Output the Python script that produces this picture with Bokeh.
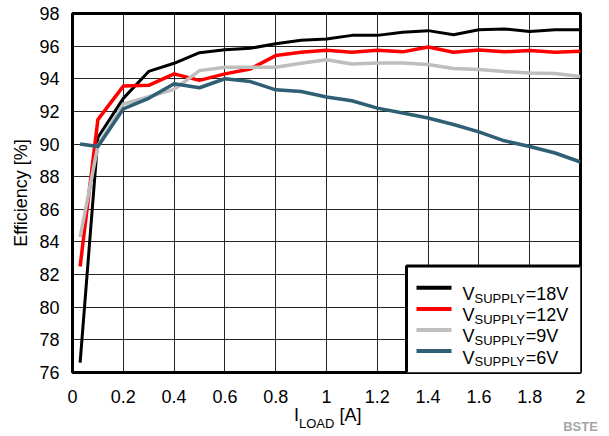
from bokeh.plotting import figure
from bokeh.models import Range1d, LinearAxis, FixedTicker
from bokeh.core.properties import value
from bokeh.embed import file_html
from bokeh.resources import INLINE

# ---- data ----
load_a = [0.03, 0.1, 0.2, 0.3, 0.4, 0.5, 0.6, 0.7, 0.8, 0.9, 1.0,
          1.1, 1.2, 1.3, 1.4, 1.5, 1.6, 1.7, 1.8, 1.9, 2.0]
eff_18v = [76.6, 90.4, 92.8, 94.45, 94.95, 95.6, 95.78, 95.87, 96.14, 96.36, 96.44,
           96.66, 96.66, 96.85, 96.95, 96.7, 97.0, 97.05, 96.9, 97.0, 97.0]
eff_12v = [82.5, 91.5, 93.55, 93.6, 94.3, 93.9, 94.3, 94.6, 95.42, 95.62, 95.75,
           95.63, 95.75, 95.65, 95.95, 95.63, 95.77, 95.65, 95.73, 95.63, 95.69]
eff_9v = [84.3, 89.9, 92.45, 92.9, 93.35, 94.5, 94.7, 94.7, 94.7, 94.95, 95.17,
          94.9, 94.97, 94.97, 94.87, 94.63, 94.57, 94.44, 94.36, 94.32, 94.14]
eff_6v = [90.0, 89.85, 92.15, 92.8, 93.7, 93.45, 94.0, 93.83, 93.32, 93.22, 92.88,
          92.65, 92.2, 91.9, 91.6, 91.2, 90.75, 90.2, 89.85, 89.45, 88.9]

series_values = ["18V", "12V", "9V", "6V"]
series_colors = ["#000000", "#ff0000", "#bebebe", "#2e5f75"]

x_ticks = [0, 0.2, 0.4, 0.6, 0.8, 1.0, 1.2, 1.4, 1.6, 1.8, 2.0]
x_tick_labels = ["0", "0.2", "0.4", "0.6", "0.8", "1", "1.2", "1.4", "1.6", "1.8", "2"]
y_ticks = [76, 78, 80, 82, 84, 86, 88, 90, 92, 94, 96, 98]

FONT = "Liberation Sans"

# frame geometry (canvas pixels) used only to place decorations
FL, FR, FT, FB = 72.0, 580.0, 13.0, 372.0
X0, X1, Y0, Y1 = 0.0, 2.0, 76.0, 98.0


def px2x(px):
    return X0 + (px - FL) / (FR - FL) * (X1 - X0)


def px2y(py):
    return Y0 + (FB - py) / (FB - FT) * (Y1 - Y0)


p = figure(width=609, height=436, output_backend="svg", toolbar_location=None,
           title=None, x_range=Range1d(X0, X1), y_range=Range1d(Y0, Y1),
           min_border_left=int(FL), min_border_right=int(609 - FR),
           min_border_top=int(FT), min_border_bottom=int(436 - FB))
p.background_fill_color = "white"
p.border_fill_color = "white"
p.outline_line_color = "black"
p.outline_line_width = 3

p.xaxis.ticker = x_ticks
p.yaxis.ticker = y_ticks
p.xaxis.major_label_overrides = {t: l for t, l in zip(x_ticks, x_tick_labels)}
for ax in (p.xaxis, p.yaxis):
    ax.axis_line_color = None
    ax.major_tick_line_color = None
    ax.minor_tick_line_color = None
    ax.major_label_text_font = FONT
    ax.major_label_text_font_size = "18px"
    ax.major_label_text_color = "black"
p.xaxis.major_label_standoff = 11
p.yaxis.major_label_standoff = 7
p.yaxis.axis_label = "Efficiency [%]"
p.yaxis.axis_label_text_font = FONT
p.yaxis.axis_label_text_font_size = "18px"
p.yaxis.axis_label_text_font_style = "normal"
p.yaxis.axis_label_text_color = "black"
p.yaxis.axis_label_standoff = 5

for g in (p.xgrid, p.ygrid):
    g.grid_line_color = "black"
    g.grid_line_width = 1
    g.grid_line_alpha = 0.85

series_data = [eff_18v, eff_12v, eff_9v, eff_6v]
widths = [3, 3.5, 3.5, 3.5]
for vals, col, w in zip(series_data, series_colors, widths):
    p.line(load_a, vals, line_color=col, line_width=w, line_join="round")

# ---- legend drawn as decoration ----
p.quad(left=[px2x(406)], right=[px2x(581)], bottom=[px2y(373)], top=[px2y(265.5)],
       fill_color="white", line_color="black", line_width=3)
rows = [287.3 + 21.1 * i for i in range(len(series_values))]
p.segment(x0=[px2x(416)] * 4, x1=[px2x(451)] * 4,
          y0=[px2y(r) for r in rows], y1=[px2y(r) for r in rows],
          line_color=series_colors, line_width=4)
for r, v in zip(rows, series_values):
    base = r + 6.4
    p.text(x=[px2x(462)], y=[px2y(base)], text=["V"], text_font=value(FONT),
           text_font_size="18px", text_baseline="alphabetic", text_color="black")
    p.text(x=[px2x(474)], y=[px2y(base + 4)], text=["SUPPLY"], text_font=value(FONT),
           text_font_size="13px", text_baseline="alphabetic", text_color="black")
    p.text(x=[px2x(525.3)], y=[px2y(base)], text=["=" + v], text_font=value(FONT),
           text_font_size="18px", text_baseline="alphabetic", text_color="black")


# ---- x axis title (with subscript) and corner code as text-only axes ----
def text_axis(centers_px, texts, size, standoff, color="black", style="normal"):
    ticks = [px2x(c) for c in centers_px]
    ax = LinearAxis(ticker=FixedTicker(ticks=ticks),
                    major_label_overrides={t: s for t, s in zip(ticks, texts)},
                    axis_line_color=None, major_tick_line_color=None,
                    minor_tick_line_color=None, major_tick_out=0, major_tick_in=0,
                    minor_tick_out=0, minor_tick_in=0,
                    major_label_standoff=standoff,
                    major_label_text_font=FONT, major_label_text_font_size=size,
                    major_label_text_font_style=style,
                    major_label_text_color=color)
    p.add_layout(ax, "below")


text_axis([296.0, 350.0], ["I", "[A]"], "18px", -1)
text_axis([316.2], ["LOAD"], "13px", -12)
text_axis([580.0], ["BSTE"], "13px", -15, color="#a6a6a6", style="bold")

open("out.html", "w").write(file_html(p, INLINE))
